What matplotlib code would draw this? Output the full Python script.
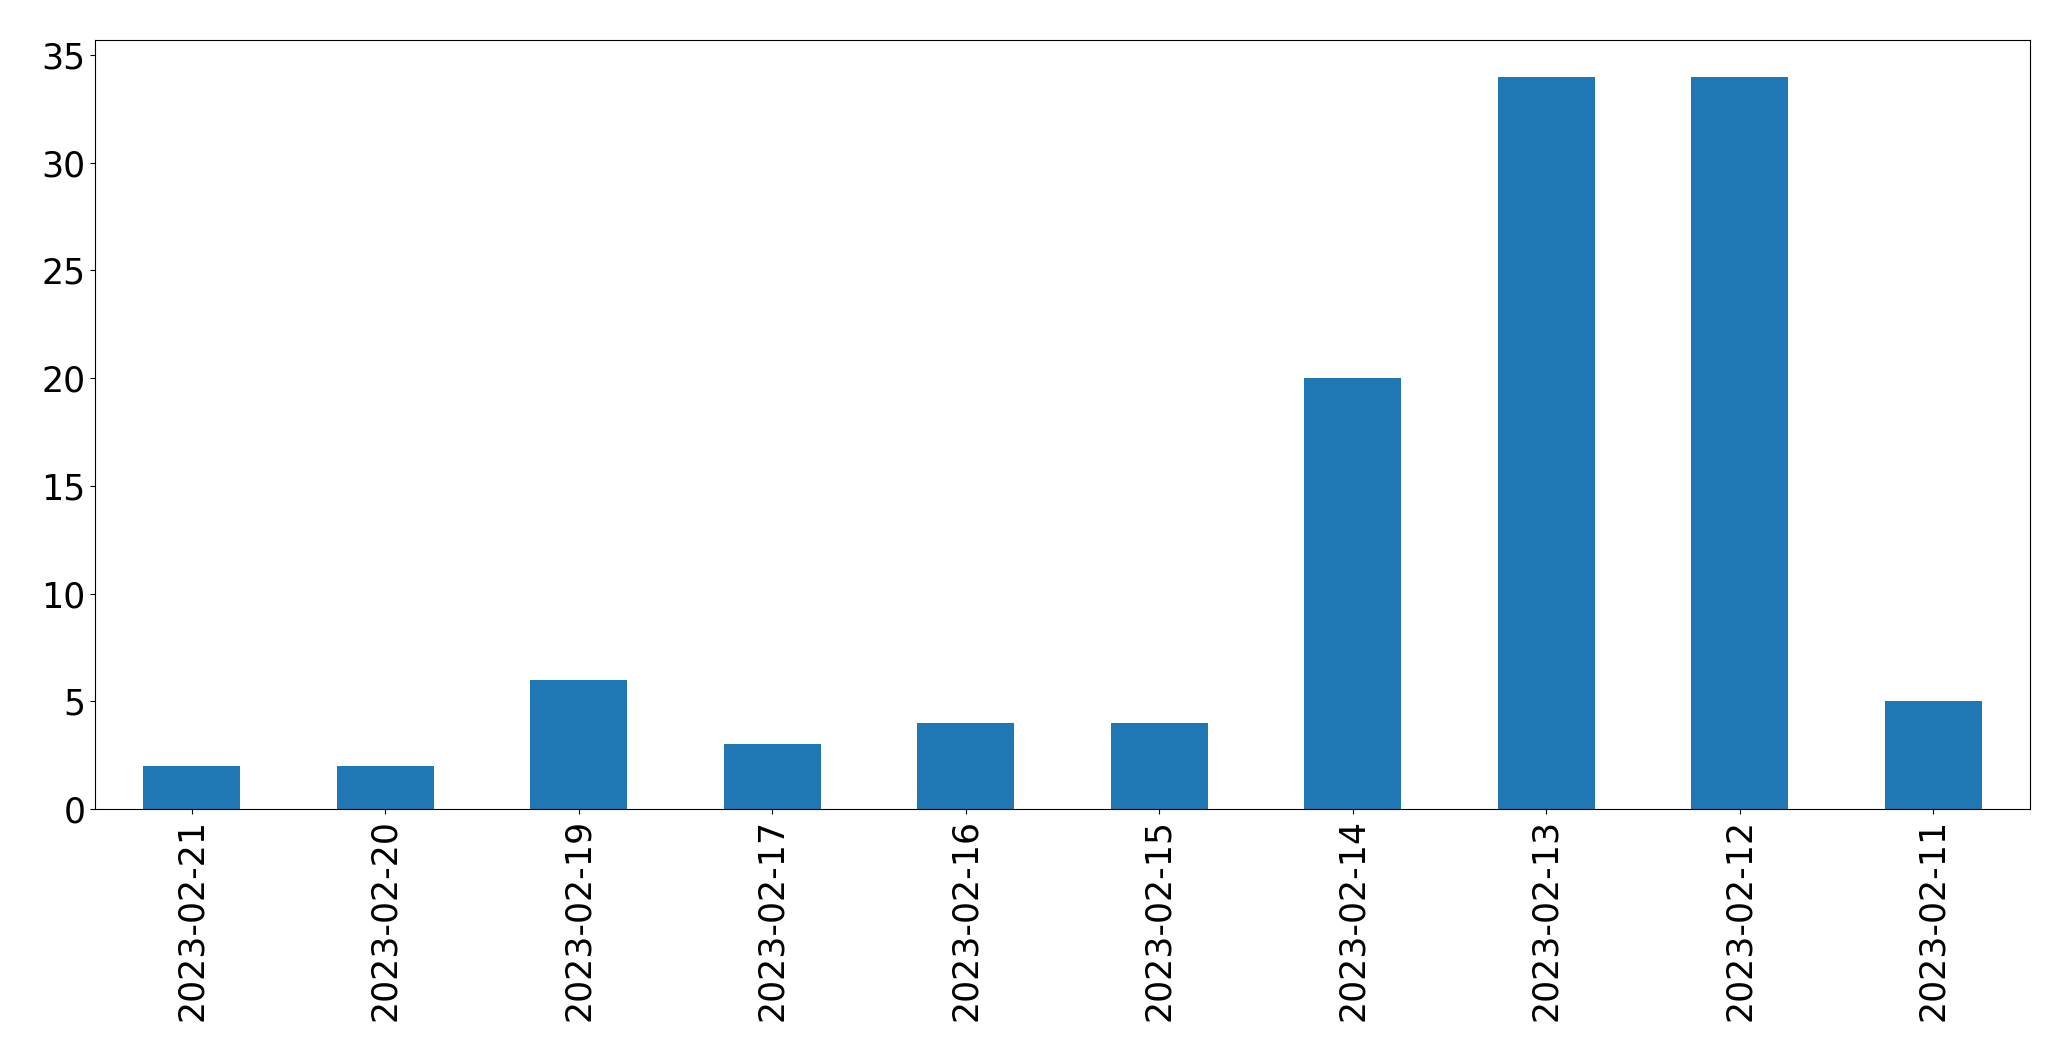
import matplotlib
matplotlib.use("Agg")
import matplotlib.pyplot as plt

dates = ["2023-02-21", "2023-02-20", "2023-02-19", "2023-02-17", "2023-02-16",
         "2023-02-15", "2023-02-14", "2023-02-13", "2023-02-12", "2023-02-11"]
counts = [2, 2, 6, 3, 4, 4, 20, 34, 34, 5]

fig = plt.figure(figsize=(20.71, 10.61), dpi=100)
ax = fig.add_axes([95/2071, 1 - 809/1061, (2030-95)/2071, (809-40)/1061])
x = range(len(dates))
ax.bar(x, counts, width=0.5, color="#1f77b4")
ax.set_xticks(list(x))
ax.set_xticklabels(dates, rotation=90)
ax.set_xlim(-0.5, len(dates) - 0.5)
ax.set_ylim(0, 35.7)
ax.tick_params(labelsize=25)
fig.savefig("out.png", dpi=100)
